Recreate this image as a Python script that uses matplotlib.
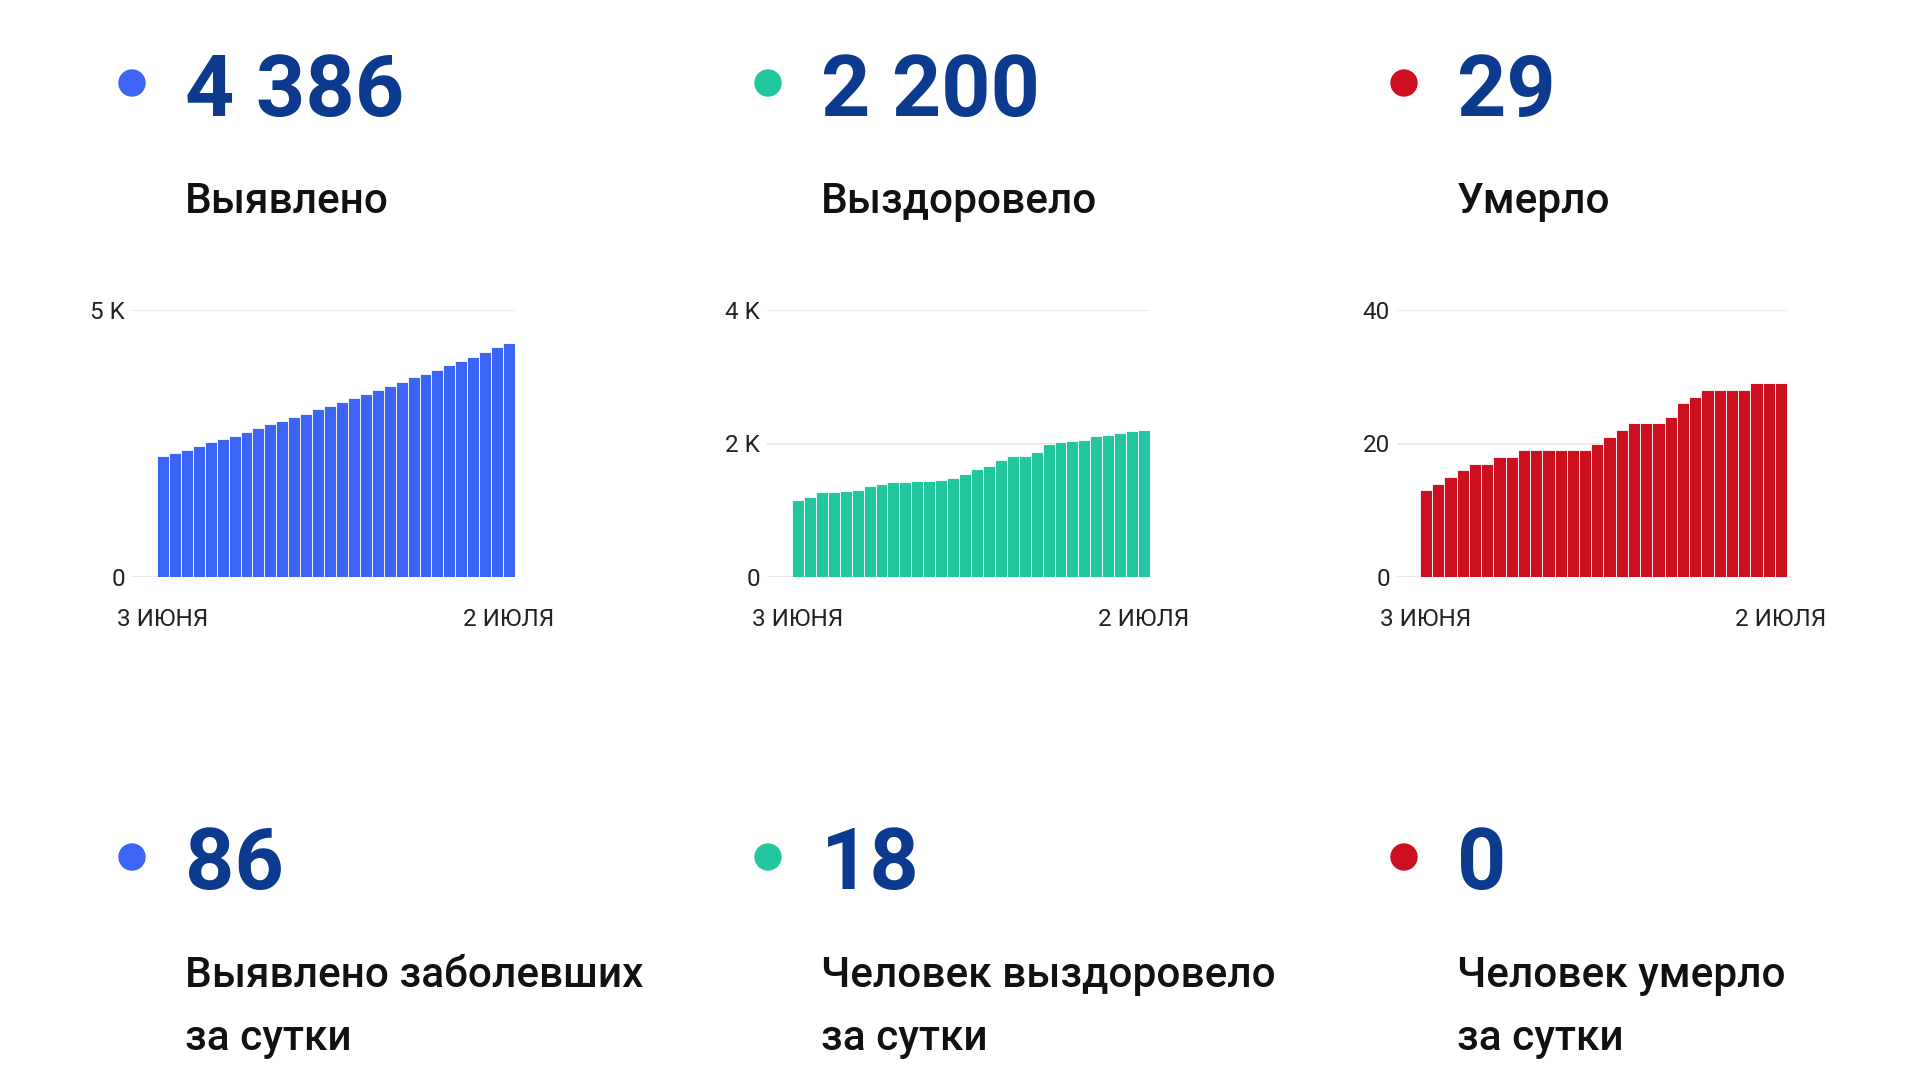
import matplotlib.pyplot as plt
from matplotlib.patches import Circle

# ==============================================================================
# data: cumulative counts, 3 June .. 2 July (30 days)
days = ["3 ИЮНЯ"] + [""] * 28 + ["2 ИЮЛЯ"]

detected = [2260, 2320, 2380, 2450, 2520, 2575, 2640, 2710, 2790, 2860,
            2920, 2990, 3060, 3140, 3210, 3275, 3360, 3430, 3510, 3575,
            3660, 3740, 3810, 3880, 3970, 4050, 4125, 4210, 4300, 4386]

recovered = [1150, 1200, 1280, 1280, 1285, 1300, 1370, 1390, 1425, 1425,
             1440, 1440, 1455, 1490, 1550, 1620, 1670, 1750, 1815, 1815,
             1880, 2000, 2025, 2035, 2050, 2110, 2125, 2150, 2182, 2200]

died = [13, 14, 15, 16, 17, 17, 18, 18, 19, 19,
        19, 19, 19, 19, 20, 21, 22, 23, 23, 23,
        24, 26, 27, 28, 28, 28, 28, 29, 29, 29]

totals = ["4 386", "2 200", "29"]
total_labels = ["Выявлено", "Выздоровело", "Умерло"]
daily = ["86", "18", "0"]
daily_labels = [["Выявлено заболевших", "за сутки"],
                ["Человек выздоровело", "за сутки"],
                ["Человек умерло", "за сутки"]]

y_ticks = [[0, 5000], [0, 2000, 4000], [0, 20, 40]]
y_tick_labels = [["0", "5 K"], ["0", "2 K", "4 K"], ["0", "20", "40"]]
# ==============================================================================
colors = ["#3c64f5", "#22c79f", "#cc1020"]
navy = "#0b3a8e"
W, H = 1920.0, 1080.0

plt.rcParams["font.family"] = ["Roboto", "DejaVu Sans"]

fig = plt.figure(figsize=(19.2, 10.8), dpi=100)
fig.patch.set_facecolor("white")

# overlay in pixel coordinates for the headline texts and dots
over = fig.add_axes([0, 0, 1, 1])
over.set_xlim(0, W)
over.set_ylim(H, 0)
over.axis("off")

col_x = [132, 768, 1404]
text_dx = 53

for i in range(3):
    cx = col_x[i]
    # top row
    over.add_patch(Circle((cx, 83), 13, color=colors[i]))
    over.text(cx + text_dx, 116, totals[i], fontsize=62, fontweight="bold",
              color=navy, va="baseline", ha="left")
    over.text(cx + text_dx, 213, total_labels[i], fontsize=30.5,
              fontweight="medium", color="#111111", va="baseline", ha="left")
    # bottom row
    over.add_patch(Circle((cx, 857), 13, color=colors[i]))
    over.text(cx + text_dx, 889, daily[i], fontsize=62, fontweight="bold",
              color=navy, va="baseline", ha="left")
    for j, line in enumerate(daily_labels[i]):
        over.text(cx + text_dx, 987 + j * 63, line, fontsize=30.5,
                  fontweight="medium", color="#111111", va="baseline",
                  ha="left")

# ==============================================================================
# small bar charts: (grid start x, bars start x, bars end x) in pixels
chart_px = [(132, 157, 515), (767, 792, 1150), (1397, 1420, 1787)]
series = [detected, recovered, died]
y_top_px, y_zero_px = 310, 577

for i in range(3):
    gx, bx0, bx1 = chart_px[i]
    step = (bx1 - bx0) / len(series[i])
    pad = (bx0 - gx) / step
    ax = fig.add_axes([gx / W, 1 - y_zero_px / H, (bx1 - gx) / W,
                       (y_zero_px - y_top_px) / H])
    x = list(range(len(series[i])))
    ax.bar(x, series[i], width=1.0, color=colors[i], edgecolor="#ffffff",
           linewidth=0.6, zorder=3)
    ax.set_xlim(-0.5 - pad, len(series[i]) - 0.5)
    ax.set_ylim(0, y_ticks[i][-1])
    ax.set_yticks(y_ticks[i])
    ax.set_yticklabels(y_tick_labels[i])
    ax.set_xticks([0, len(series[i]) - 1])
    ax.set_xticklabels([days[0], days[-1]])
    ax.grid(axis="y", color="#e6e6e6", linewidth=1.2, zorder=0)
    for s in ax.spines.values():
        s.set_visible(False)
    ax.tick_params(axis="both", length=0, labelsize=17.5, colors="#222222")
    ax.tick_params(axis="y", pad=5)
    ax.tick_params(axis="x", pad=22)
    ax.set_facecolor("none")

plt.savefig("out.png", dpi=100, facecolor="white")
